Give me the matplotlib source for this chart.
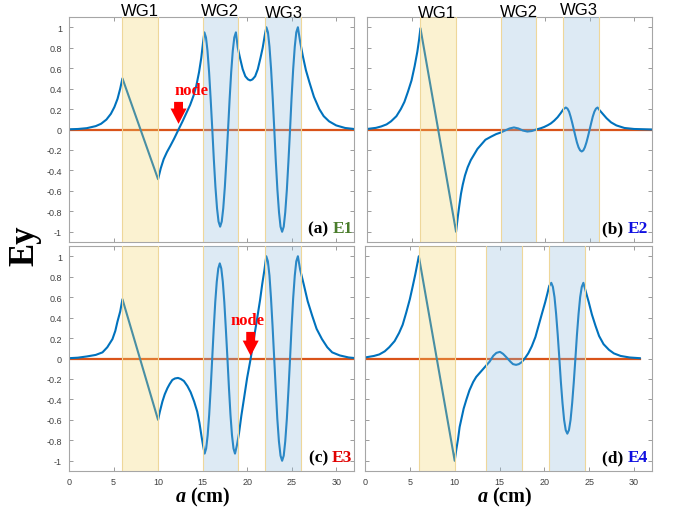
import matplotlib
matplotlib.use('Agg')
import matplotlib.pyplot as plt
import matplotlib.transforms as mtransforms
from matplotlib.patches import FancyArrow

plt.rcParams['font.family'] = 'Liberation Sans'
plt.rcParams['mathtext.fontset'] = 'custom'
plt.rcParams['mathtext.it'] = 'Liberation Serif:italic:bold'
plt.rcParams['mathtext.rm'] = 'Liberation Serif:bold'

# ---- field profiles ----
x1 = [0, 1, 2, 3, 3.6, 4.2, 4.7, 5.1, 5.45, 5.75, 6.0,
      10.0, 10.3, 10.63, 11.0, 11.38, 11.8, 12.3, 12.75, 13.2, 13.6, 13.98, 14.3, 14.6, 14.85, 15.05,
      15.20, 15.38, 15.55, 15.73, 15.91, 16.09, 16.26, 16.44, 16.62, 16.79, 16.97, 17.15, 17.32, 17.50, 17.68,
      17.86, 18.03, 18.21, 18.39, 18.56, 18.74,
      18.95, 19.2, 19.5, 19.8, 20.1, 20.35, 20.6, 20.9, 21.2, 21.5, 21.75, 22.0,
      22.16, 22.34, 22.51, 22.69, 22.87, 23.05, 23.22, 23.40, 23.58, 23.75, 23.93, 24.11, 24.28, 24.46, 24.64,
      24.82, 24.99, 25.17, 25.35, 25.52, 25.70,
      25.95, 26.25, 26.6, 27.0, 27.5, 28.1, 28.6, 29.2, 30.0, 31.0, 32.0]
ey1 = [0.002, 0.005, 0.013, 0.033, 0.056, 0.097, 0.153, 0.22, 0.30, 0.40, 0.50,
       -0.486, -0.38, -0.29, -0.22, -0.16, -0.09, 0.0, 0.08, 0.165, 0.24, 0.33, 0.43, 0.56, 0.70, 0.85,
       0.95, 0.90, 0.77, 0.56, 0.29, 0.0, -0.29, -0.56, -0.77, -0.90, -0.95, -0.90, -0.77, -0.56, -0.29,
       0.0, 0.29, 0.56, 0.77, 0.90, 0.95,
       0.80, 0.70, 0.59, 0.52, 0.49, 0.48, 0.49, 0.52, 0.59, 0.70, 0.80, 0.93,
       1.0, 0.95, 0.81, 0.59, 0.31, 0.0, -0.31, -0.59, -0.81, -0.95, -1.0, -0.95, -0.81, -0.59, -0.31,
       0.0, 0.31, 0.59, 0.81, 0.95, 1.0,
       0.86, 0.72, 0.58, 0.46, 0.32, 0.20, 0.13, 0.08, 0.04, 0.015, 0.005]

x2 = [0, 1.0, 1.6, 2.2, 2.7, 3.3, 3.8, 4.2, 4.6, 5.0, 5.35, 5.65, 5.85, 6.0,
      10.0, 10.2, 10.37, 10.55, 10.75, 11.0, 11.3, 11.65, 12.06, 12.4, 12.8, 13.3, 13.93, 14.5,
      15.0, 15.5, 16.0, 16.5, 17.0, 17.5, 18.0, 18.5, 19.0,
      19.5, 19.9, 20.3, 20.65, 21.0, 21.4, 21.75, 22.07,
      22.33, 22.51, 22.69, 22.86, 23.04, 23.22, 23.40, 23.57, 23.75, 23.93, 24.11, 24.29, 24.46, 24.64,
      24.82, 25.0, 25.18, 25.35, 25.53, 25.71, 25.89,
      26.1, 26.45, 26.9, 27.4, 28.0, 28.9, 30.0, 32.0]
ey2 = [0.005, 0.016, 0.03, 0.05, 0.08, 0.13, 0.20, 0.27, 0.37, 0.48, 0.62, 0.76, 0.88, 0.99,
       -1.0, -0.85, -0.74, -0.63, -0.54, -0.45, -0.37, -0.30, -0.24, -0.19, -0.15, -0.10, -0.07, -0.045,
       -0.03, -0.01, 0.01, 0.02, 0.01, -0.01, -0.02, -0.015, 0.0,
       0.012, 0.025, 0.042, 0.06, 0.085, 0.12, 0.16, 0.20,
       0.215, 0.204, 0.174, 0.126, 0.066, 0.0, -0.066, -0.126, -0.174, -0.204, -0.215, -0.204, -0.174, -0.126,
       -0.066, 0.0, 0.066, 0.126, 0.174, 0.204, 0.215,
       0.19, 0.155, 0.11, 0.07, 0.04, 0.015, 0.005, 0.0]

x3 = [0, 1, 2, 3, 3.76, 4.3, 4.88, 5.2, 5.44, 5.75, 6.0,
      10.0, 10.2, 10.49, 10.75, 11.05, 11.3, 11.6, 11.9, 12.24, 12.55, 12.9, 13.3, 13.66, 14.05, 14.4,
      14.65, 14.86, 15.05,
      15.23, 15.40, 15.57, 15.74, 15.91, 16.08, 16.25, 16.42, 16.59, 16.76, 16.93, 17.10, 17.27, 17.44, 17.61,
      17.79, 17.96, 18.13, 18.30, 18.47, 18.64,
      18.85, 19.09, 19.35, 19.65, 20.0, 20.4, 20.75, 21.14, 21.45, 21.7, 21.95,
      22.15, 22.33, 22.51, 22.68, 22.86, 23.04, 23.22, 23.39, 23.57, 23.75, 23.93, 24.11, 24.28, 24.46, 24.64,
      24.82, 24.99, 25.17, 25.35, 25.52, 25.70,
      25.95, 26.37, 26.8, 27.3, 27.8, 28.4, 29.0, 29.55, 30.4, 31.4, 32.0]
ey3 = [0.003, 0.008, 0.02, 0.035, 0.06, 0.11, 0.19, 0.27, 0.36, 0.46, 0.58,
       -0.60, -0.52, -0.42, -0.35, -0.29, -0.25, -0.21, -0.195, -0.19, -0.20, -0.22, -0.27, -0.33, -0.42, -0.52,
       -0.63, -0.75, -0.85,
       -0.93, -0.88, -0.75, -0.55, -0.29, 0.0, 0.29, 0.55, 0.75, 0.88, 0.93, 0.88, 0.75, 0.55, 0.29,
       0.0, -0.29, -0.55, -0.75, -0.88, -0.93,
       -0.85, -0.73, -0.56, -0.39, -0.19, 0.0, 0.19, 0.40, 0.57, 0.73, 0.87,
       1.0, 0.95, 0.81, 0.59, 0.31, 0.0, -0.31, -0.59, -0.81, -0.95, -1.0, -0.95, -0.81, -0.59, -0.31,
       0.0, 0.31, 0.59, 0.81, 0.95, 1.0,
       0.87, 0.72, 0.56, 0.42, 0.29, 0.19, 0.11, 0.06, 0.03, 0.01, 0.005]

x4 = [0, 1.0, 1.6, 2.2, 2.7, 3.3, 3.8, 4.2, 4.6, 5.0, 5.33, 5.6, 5.8, 6.0,
      10.0, 10.18, 10.37, 10.55, 10.75, 11.0, 11.31, 11.65, 12.06, 12.4, 12.8, 13.2, 13.55,
      13.9, 14.3, 14.65, 15.05, 15.4, 15.79, 16.2, 16.5, 16.84, 17.15, 17.48, 17.85,
      18.2, 18.6, 19.0, 19.35, 19.7, 20.09, 20.35, 20.54,
      20.77, 20.95, 21.13, 21.31, 21.49, 21.67, 21.84, 22.02, 22.20, 22.38, 22.56, 22.74, 22.92, 23.10, 23.28,
      23.46, 23.63, 23.81, 23.99, 24.17, 24.35,
      24.6, 24.95, 25.3, 25.7, 26.1, 26.6, 27.2, 27.75, 28.5, 29.5, 30.64]
ey4 = [0.01, 0.025, 0.04, 0.07, 0.11, 0.17, 0.25, 0.33, 0.45, 0.58, 0.71, 0.82, 0.91, 1.0,
       -1.0, -0.89, -0.79, -0.67, -0.59, -0.49, -0.40, -0.31, -0.23, -0.18, -0.14, -0.10, -0.065,
       -0.03, 0.026, 0.055, 0.065, 0.045, 0.01, -0.03, -0.055, -0.062, -0.055, -0.035, 0.005,
       0.05, 0.12, 0.21, 0.32, 0.43, 0.55, 0.64, 0.71,
       0.74, 0.70, 0.60, 0.435, 0.23, 0.0, -0.23, -0.435, -0.60, -0.70, -0.735, -0.70, -0.60, -0.435, -0.23,
       0.0, 0.23, 0.435, 0.60, 0.70, 0.74,
       0.66, 0.55, 0.43, 0.32, 0.22, 0.14, 0.085, 0.05, 0.025, 0.01, 0.003]

# waveguide edges (cm): WG1, WG2, WG3
wg_ab = [(6, 10), (15, 19), (22, 26)]
wg_d = [(6, 10), (13.5, 17.5), (20.5, 24.5)]
wg_names = ['WG1', 'WG2', 'WG3']
tags = ['(a)', '(b)', '(c)', '(d)']
modes = ['E1', 'E2', 'E3', 'E4']
node_x = [12.3, None, 20.4, None]

xs = [x1, x2, x3, x4]
eys = [ey1, ey2, ey3, ey4]
guides = [wg_ab, wg_ab, wg_ab, wg_d]

blue = '#0072BD'
orange = '#D95319'
mode_colors = ['#4a7d2c', '#1010e0', '#e00000', '#1010e0']
band_colors = ['#f5d469', '#91bcdc', '#91bcdc']

W, H = 688, 510
fig = plt.figure(figsize=(6.88, 5.10), dpi=100)
boxes = [(69, 354, 18, 243), (367, 652, 18, 243), (69, 354, 247, 472), (365, 652, 247, 472)]
wg_label_x = [[8.0, 17.0, 24.1], [7.9, 17.1, 23.8]]
wg_label_y = [[1.03, 1.03, 1.02], [1.02, 1.025, 1.035]]
tag_x = [0.997, 0.986, 0.995, 0.986]

for i in range(4):
    l, r, t, b = boxes[i]
    ax = fig.add_axes([l / W, 1 - b / H, (r - l) / W, (b - t) / H])
    ax.plot(xs[i], [0] * len(xs[i]), color=orange, lw=1.6, zorder=2)
    ax.plot(xs[i], eys[i], color=blue, lw=1.5, zorder=2.5)
    for k, (g0, g1) in enumerate(guides[i]):
        ax.axvspan(g0, g1, facecolor=band_colors[k], alpha=0.3, lw=0, zorder=3)
        ax.axvline(g0, color='#eed79a', lw=0.8, zorder=3.1)
        ax.axvline(g1, color='#eed79a', lw=0.8, zorder=3.1)
    ax.set_xlim(0, 32)
    ax.set_ylim(-1.1, 1.1)
    ax.set_xticks([0, 5, 10, 15, 20, 25, 30])
    ax.set_yticks([-1, -0.8, -0.6, -0.4, -0.2, 0, 0.2, 0.4, 0.6, 0.8, 1])
    ax.set_yticklabels(['-1', '-0.8', '-0.6', '-0.4', '-0.2', '0', '0.2', '0.4', '0.6', '0.8', '1'])
    ax.tick_params(direction='in', length=3, width=0.6, color='#8c8c8c', top=True, right=True,
                   labelsize=6.5, labelcolor='#404040', pad=4)
    ax.tick_params(axis='y', pad=5)
    if i < 2:
        ax.tick_params(labelbottom=False)
    if i % 2 == 1:
        ax.tick_params(labelleft=False)
    for s in ax.spines.values():
        s.set_color('#a6a6a6')
        s.set_linewidth(0.8)

    # panel tag
    txt = ax.text(tag_x[i], 0.025, modes[i], transform=ax.transAxes, ha='right', va='bottom',
                  fontsize=12.5, fontweight='bold', family='Liberation Serif', color=mode_colors[i], zorder=5)
    ax.annotate(tags[i] + ' ', xy=(0, 0), xycoords=txt, ha='right', va='bottom',
                fontsize=12.5, fontweight='bold', family='Liberation Serif', color='black', zorder=5)

    if i < 2:
        trans = mtransforms.blended_transform_factory(ax.transData, ax.transAxes)
        for k in range(3):
            ax.text(wg_label_x[i][k], wg_label_y[i][k], wg_names[k], transform=trans, ha='center',
                    va='center', fontsize=12, clip_on=False)

    if node_x[i] is not None:
        nx = node_x[i]
        top = 0.27 if i == 0 else 0.26
        tip = 0.055 if i == 0 else 0.025
        ax.add_patch(FancyArrow(nx, top, 0, tip - top, width=1.0, head_width=1.8, head_length=0.15,
                                length_includes_head=True, color='red', lw=0, zorder=6))
        ax.text(nx + (1.4 if i == 0 else -0.4), top + 0.04, 'node', ha='center', va='bottom',
                fontsize=12, fontweight='bold', family='Liberation Serif', color='red', zorder=6)

fig.text(25 / W, 1 - 246 / H, 'Ey', rotation=90, ha='center', va='center', fontsize=25,
         fontweight='bold', family='Liberation Serif')
fig.text(203 / W, 1 - 497 / H, r'$a$ (cm)', ha='center', va='center', fontsize=14.5,
         fontweight='bold', family='Liberation Serif')
fig.text(505 / W, 1 - 497 / H, r'$a$ (cm)', ha='center', va='center', fontsize=14.5,
         fontweight='bold', family='Liberation Serif')

fig.savefig('out.png', dpi=100)
